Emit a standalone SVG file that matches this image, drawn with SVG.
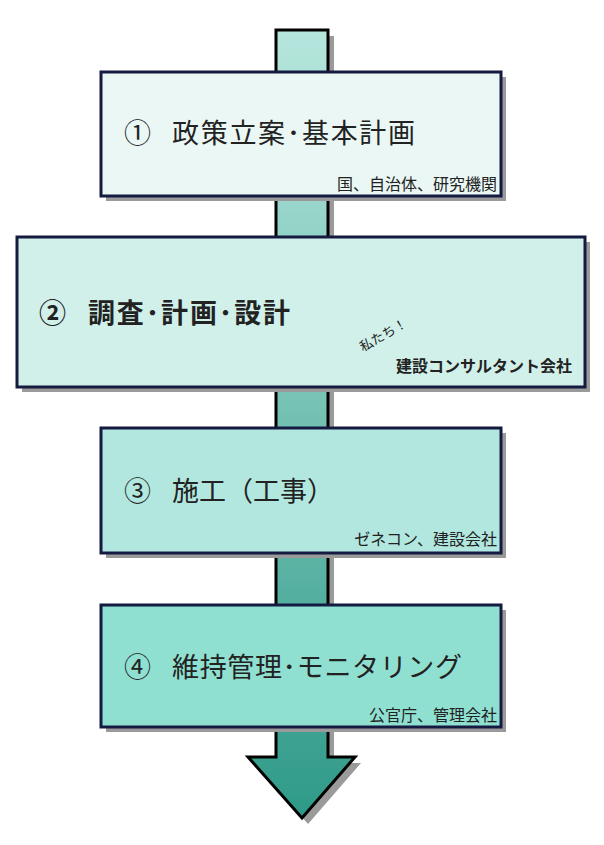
<svg xmlns="http://www.w3.org/2000/svg" width="604" height="845" viewBox="0 0 604 845">
<style>
.box{stroke:#141a40;stroke-width:3}
.sh{fill:#9a9a9a}
.t{font-family:"Noto Sans CJK JP",sans-serif;fill:#222;font-size:27px}
.s{font-family:"Noto Sans CJK JP",sans-serif;fill:#222;font-size:16px;text-anchor:end}
</style>
<defs>
<linearGradient id="g" x1="0" y1="0" x2="0" y2="1">
<stop offset="0" stop-color="#b6e6dd"/><stop offset="1" stop-color="#2f9a88"/>
</linearGradient>
</defs>
<g id="connectors">
<path d="M282,36 H334 V763 H361 L308,824 L254,763 H282 Z" class="sh"/>
<path d="M276,30 H328 V757 H355 L302,818 L248,757 H276 Z" fill="url(#g)" stroke="#000" stroke-width="3" stroke-linejoin="miter"/>
</g>
<g id="n1">
<rect x="106" y="77" width="400" height="124" class="sh"/>
<rect x="101" y="72" width="400" height="124" fill="#eaf7f4" class="box"/>
<text x="124" y="143" class="t">①</text>
<text x="172" y="143" class="t" textLength="243">政策立案･基本計画</text>
<text x="497" y="190" class="s">国、自治体、研究機関</text>
</g>
<g id="n2">
<rect x="22" y="242" width="568" height="150" class="sh"/>
<rect x="17" y="237" width="568" height="150" fill="#d1f0ea" class="box"/>
<text x="39" y="323" class="t" font-weight="bold">②</text>
<text x="88" y="323" class="t" font-weight="bold" textLength="202">調査･計画･設計</text>
<text x="0" y="0" font-family="Noto Sans CJK JP,sans-serif" font-size="13" fill="#222" transform="translate(363,352) rotate(-30)">私たち！</text>
<text x="572" y="372" class="s" font-weight="bold">建設コンサルタント会社</text>
</g>
<g id="n3">
<rect x="106" y="433" width="400" height="125" class="sh"/>
<rect x="101" y="428" width="400" height="125" fill="#b2e7df" class="box"/>
<text x="124" y="501" class="t">③</text>
<text x="172" y="501" class="t">施工（工事）</text>
<text x="497" y="545" class="s">ゼネコン、建設会社</text>
</g>
<g id="n4">
<rect x="106" y="610" width="400" height="122" class="sh"/>
<rect x="101" y="605" width="400" height="122" fill="#8fe0d1" class="box"/>
<text x="124" y="677" class="t">④</text>
<text x="172" y="677" class="t" textLength="290">維持管理･モニタリング</text>
<text x="497" y="721" class="s">公官庁、管理会社</text>
</g>
</svg>
